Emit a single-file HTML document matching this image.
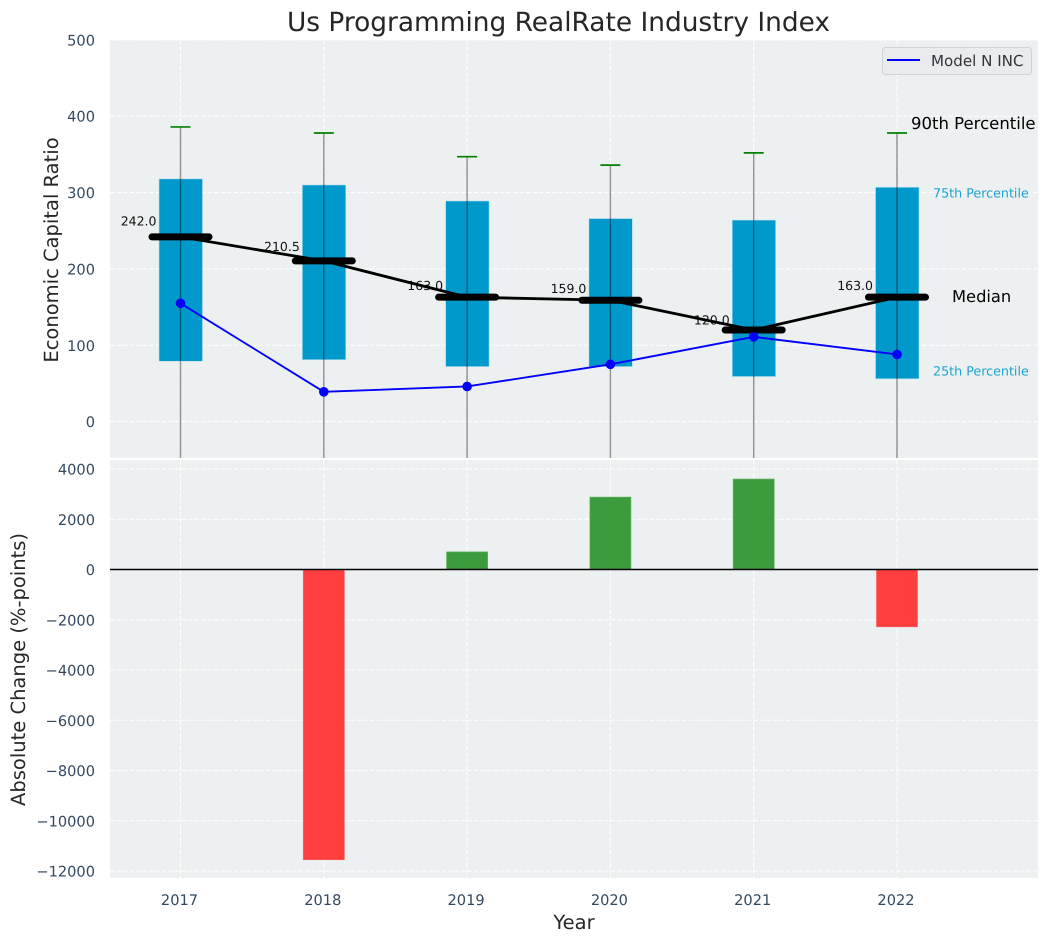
<!DOCTYPE html>
<html>
<head>
<meta charset="utf-8">
<title>Us Programming RealRate Industry Index</title>
<style>
html,body{margin:0;padding:0;background:#fff;width:1048px;height:942px;overflow:hidden}
svg{display:block;font-family:"DejaVu Sans","Liberation Sans",sans-serif;text-rendering:geometricPrecision}
</style>
</head>
<body>
<svg id="chart" xmlns="http://www.w3.org/2000/svg" width="1048" height="942" viewBox="0 0 1048 942">
  <text x="558.5" y="31" text-anchor="middle" font-size="26.4" fill="#262626">Us Programming RealRate Industry Index</text>
  <text transform="translate(58,250) rotate(-90)" text-anchor="middle" font-size="19.5" fill="#262626">Economic Capital Ratio</text>
  <text transform="translate(25,669.5) rotate(-90)" text-anchor="middle" font-size="19.5" fill="#262626">Absolute Change (%-points)</text>
  <text x="574" y="929" text-anchor="middle" font-size="19.5" fill="#262626">Year</text>
</svg>
<script>
const years = [2017, 2018, 2019, 2020, 2021, 2022];
const p25 = [79, 81, 72, 72, 59, 56];
const p75 = [318, 310, 289, 266, 264, 307];
const p90 = [386, 378, 347, 336, 352, 378];
const p10 = [-60, -60, -60, -60, -60, -60];
const medians = [242, 210.5, 163, 159, 120, 163];
const medianLabels = ['242.0', '210.5', '163.0', '159.0', '120.0', '163.0'];
const modelValues = [155, 39, 46, 75, 111, 88];
const changes = [0, -11550, 700, 2880, 3600, -2280];
const topTicks = [0, 100, 200, 300, 400, 500];
const bottomTicks = [-12000, -10000, -8000, -6000, -4000, -2000, 0, 2000, 4000];

const NS = 'http://www.w3.org/2000/svg';
const svg = document.getElementById('chart');
const L = 110, R = 1038, T1 = 40, B1 = 458, T2 = 460, B2 = 878;
const x = v => 180.5 + (v - 2017) * 143.3;
const yTop = v => 421.6 - v * 0.7634;
const yBot = v => 569.5 - v * 0.025125;

function add(parent, tag, attrs, text) {
  const el = document.createElementNS(NS, tag);
  for (const k in attrs) el.setAttribute(k, attrs[k]);
  if (text !== undefined) el.textContent = text;
  parent.appendChild(el);
  return el;
}
function name(el, n, inter) {
  
  
  return el;
}

const defs = add(svg, 'defs', {});
const cp1 = add(defs, 'clipPath', {id: 'clip-top'});
add(cp1, 'rect', {x: L, y: T1, width: R - L, height: B1 - T1});
const cp2 = add(defs, 'clipPath', {id: 'clip-bottom'});
add(cp2, 'rect', {x: L, y: T2, width: R - L, height: B2 - T2});

name(add(svg, 'rect', {x: L, y: T1, width: R - L, height: B1 - T1, fill: '#ecf0f1'}), 'top-plot-area', false);
name(add(svg, 'rect', {x: L, y: T2, width: R - L, height: B2 - T2, fill: '#ecf0f1'}), 'bottom-plot-area', false);

const gridStyle = {stroke: '#ffffff', 'stroke-width': 1.1, 'stroke-dasharray': '4.5 2', fill: 'none'};
const topG = name(add(svg, 'g', {'clip-path': 'url(#clip-top)'}), 'top-panel', false);
const botG = name(add(svg, 'g', {'clip-path': 'url(#clip-bottom)'}), 'bottom-panel', false);

topTicks.forEach(t => {
  const g = add(topG, 'line', Object.assign({x1: L, x2: R, y1: yTop(t), y2: yTop(t)}, gridStyle));
  
  
  const lb = add(svg, 'text', {x: 95, y: yTop(t) + 5.5, 'text-anchor': 'end', 'font-size': 14.6, fill: '#34495e'}, String(t));
  
  
});
bottomTicks.forEach(t => {
  const g = add(botG, 'line', Object.assign({x1: L, x2: R, y1: yBot(t), y2: yBot(t)}, gridStyle));
  
  
  const lb = add(svg, 'text', {x: 95, y: yBot(t) + 5.5, 'text-anchor': 'end', 'font-size': 14.6, fill: '#34495e'}, String(t).replace('-', '\u2212'));
  
  
});
years.forEach(yr => {
  const g1 = add(topG, 'line', Object.assign({x1: x(yr), x2: x(yr), y1: T1, y2: B1}, gridStyle));
  
  
  const g2 = add(botG, 'line', Object.assign({x1: x(yr), x2: x(yr), y1: T2, y2: B2}, gridStyle));
  
  
  const lb = add(svg, 'text', {x: x(yr) - 1, y: 905, 'text-anchor': 'middle', 'font-size': 14.6, fill: '#34495e'}, String(yr));
  
  
});

/* value labels sit beneath the median line */
years.forEach((yr, i) => {
  const lb = add(topG, 'text', {x: x(yr) - 24, y: yTop(medians[i] * 1.065 + 5) + 4.5, 'text-anchor': 'end', 'font-size': 12.5, fill: '#111'}, medianLabels[i]);
  
  
});

/* interquartile boxes */
years.forEach((yr, i) => {
  const b = add(topG, 'rect', {x: x(yr) - 21.5, y: yTop(p75[i]), width: 43.5, height: yTop(p25[i]) - yTop(p75[i]), fill: '#0099cc', stroke: '#bfe3ef', 'stroke-width': 0.6});
  
  
});
/* whiskers and caps */
years.forEach((yr, i) => {
  const w = add(topG, 'line', {x1: x(yr), x2: x(yr), y1: yTop(p90[i]), y2: yTop(p10[i]), stroke: '#000', 'stroke-opacity': 0.42, 'stroke-width': 1.4});
  
  
  const c = add(topG, 'line', {x1: x(yr) - 10, x2: x(yr) + 10, y1: yTop(p90[i]), y2: yTop(p90[i]), stroke: '#008000', 'stroke-width': 1.7});
  
  
});
/* median connecting line */
name(add(topG, 'polyline', {points: years.map((yr, i) => x(yr) + ',' + yTop(medians[i])).join(' '), fill: 'none', stroke: '#000', 'stroke-width': 2.8, 'stroke-linejoin': 'round'}), 'median-line', false);
years.forEach((yr, i) => {
  const m = add(topG, 'line', {x1: x(yr) - 28.5, x2: x(yr) + 28.5, y1: yTop(medians[i]), y2: yTop(medians[i]), stroke: '#000', 'stroke-width': 7, 'stroke-linecap': 'round'});
  
  
});
/* model series */
name(add(topG, 'polyline', {points: years.map((yr, i) => x(yr) + ',' + yTop(modelValues[i])).join(' '), fill: 'none', stroke: '#0000ff', 'stroke-width': 1.9}), 'model-n-inc-line', false);
years.forEach((yr, i) => {
  const d = add(topG, 'circle', {cx: x(yr), cy: yTop(modelValues[i]), r: 4.8, fill: '#0000ff'});
  
  
});

/* annotations anchored to the last year */
const last = years.length - 1, lastX = x(years[last]);
name(add(svg, 'text', {x: lastX + 14, y: yTop(p90[last]) - 4, 'font-size': 16.5, fill: '#000'}, '90th Percentile'), 'p90-annotation', false);
name(add(svg, 'text', {x: lastX + 36, y: yTop(p75[last]) + 10.5, 'font-size': 12.7, fill: '#1aa3d1'}, '75th Percentile'), 'p75-annotation', false);
name(add(svg, 'text', {x: lastX + 55, y: yTop(medians[last]) + 5, 'font-size': 16.3, fill: '#000'}, 'Median'), 'median-annotation', false);
name(add(svg, 'text', {x: lastX + 36, y: yTop(p25[last]) - 3.5, 'font-size': 12.7, fill: '#1aa3d1'}, '25th Percentile'), 'p25-annotation', false);

/* change bars */
years.forEach((yr, i) => {
  if (changes[i] === 0) return;
  const top = Math.min(yBot(changes[i]), yBot(0));
  const h = Math.abs(yBot(changes[i]) - yBot(0));
  const pos = changes[i] > 0;
  const b = add(botG, 'rect', {x: x(yr) - 20.5, y: top, width: 41, height: h, fill: pos ? '#3b9b3d' : '#ff3f3f', stroke: pos ? '#5cb25e' : '#ff6060', 'stroke-width': 0.7});
  
  
});
name(add(botG, 'line', {x1: L, x2: R, y1: yBot(0), y2: yBot(0), stroke: '#000', 'stroke-width': 1.4}), 'zero-line', false);

/* legend */
const lg = name(add(svg, 'g', {}), 'legend', true);
name(add(lg, 'rect', {x: 882.5, y: 47.5, width: 149, height: 27, rx: 3, fill: '#e9ebef', stroke: '#cfd2d6', 'stroke-width': 1}), 'legend-frame', false);
name(add(lg, 'line', {x1: 887, x2: 920, y1: 60, y2: 60, stroke: '#0000ff', 'stroke-width': 1.9}), 'legend-swatch', false);
name(add(lg, 'text', {x: 931, y: 66, 'font-size': 15.1, fill: '#333'}, 'Model N INC'), 'legend-label', false);
</script>
</body>
</html>
